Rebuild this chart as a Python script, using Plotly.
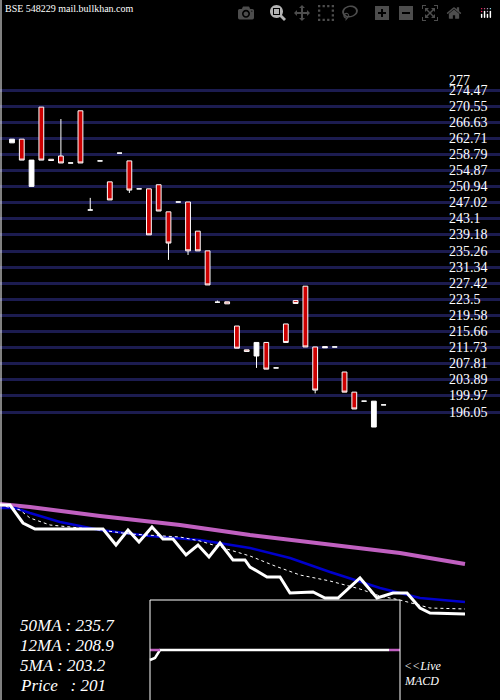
import plotly.graph_objects as go

opens  = [261.6,262.5,251.0,270.3,257.6,258.4,256.7,269.4,245.25,257.2,252.1,259.1,257.2,250.4,250.4,251.4,244.8,247.2,247.2,240.1,235.3,222.8,222.9,217.0,211.2,209.7,213.0,206.8,217.5,223.2,226.7,211.9,212.0,211.9,205.8,200.9,198.7,192.4,197.8]
closes = [262.5,257.4,257.4,257.4,257.3,256.7,256.7,256.7,245.25,257.2,247.7,259.1,250.1,250.4,239.2,245.0,237.2,247.2,235.3,235.3,227.0,222.8,222.4,211.6,210.8,213.0,206.5,206.8,213.0,222.5,211.9,201.4,211.7,211.9,200.9,196.8,198.7,198.7,197.8]
highs  = [262.5,262.5,257.4,270.3,257.6,267.4,256.7,269.4,248.2,257.2,252.1,259.1,257.2,250.4,250.4,251.4,244.8,247.2,247.2,240.1,235.3,223.2,222.9,217.0,211.2,213.0,213.0,206.8,217.5,223.2,226.7,211.9,212.0,211.9,205.8,200.9,198.7,198.7,197.8]
lows   = [261.6,257.4,251.0,257.4,257.3,256.7,256.7,256.7,245.25,257.2,247.7,259.1,249.4,250.4,239.2,245.0,233.1,247.2,234.3,235.3,227.0,222.8,222.4,211.6,210.8,206.8,206.5,206.8,213.0,222.5,211.9,200.6,211.7,211.9,200.9,196.8,198.7,192.4,197.8]
idx = list(range(len(opens)))

tick_vals = [274.47,270.55,266.63,262.71,258.79,254.87,250.94,247.02,243.1,239.18,235.26,231.34,227.42,223.5,219.58,215.66,211.73,207.81,203.89,199.97,196.05]
tick_text = ["274.47","270.55","266.63","262.71","258.79","254.87","250.94","247.02","243.1","239.18","235.26","231.34","227.42","223.5","219.58","215.66","211.73","207.81","203.89","199.97","196.05"]

# lower panel lines (panel units, top=0)
ma50_x = [0,30,100,180,250,330,400,465]
ma50_y = [504,507,516,525,535,545,553,564]
ma12_x = [0,15,30,60,100,150,200,250,290,330,380,420,465]
ma12_y = [508,508,513,522,530,536,540,548,558,572,588,598,602]
ma5_x = [0,20,30,50,70,100,130,150,180,200,230,250,275,300,330,360,380,400,430,465]
ma5_y = [505,510,518,525,527,530,534,535,537,541,550,556,566,575,581,589,596,600,608,609]
px_x = [0,10,23,35,103,116,128,139,152,163,173,186,198,209,220,233,245,250,267,280,290,313,325,338,360,377,393,407,420,430,465]
px_y = [505,505,523,529,529,545,530,542,527,539,539,555,545,557,543,560,560,567,577,577,593,592,598,598,578,598,593,593,608,613,614]
macd_x = [150,155,160,389]
macd_y = [660,658,650,650]

fig = go.Figure()
fig.add_trace(go.Candlestick(x=idx, open=opens, high=highs, low=lows, close=closes,
    increasing=dict(line=dict(color="white", width=1), fillcolor="white"),
    decreasing=dict(line=dict(color="white", width=1), fillcolor="#cc0000"),
    whiskerwidth=0, xaxis="x", yaxis="y", showlegend=False))

for xs, ys, col, w, dash in [(ma50_x, ma50_y, "#c060c0", 4, "solid"),
                             (ma12_x, ma12_y, "#0000cc", 2.5, "solid"),
                             (ma5_x, ma5_y, "white", 1, "dot"),
                             (px_x, px_y, "white", 3, "solid"),
                             (macd_x, macd_y, "white", 2.5, "solid")]:
    fig.add_trace(go.Scatter(x=xs, y=ys, mode="lines", line=dict(color=col, width=w, dash=dash),
                             xaxis="x2", yaxis="y2", showlegend=False, hoverinfo="skip"))
fig.add_trace(go.Scatter(x=[150,160,None,389,400], y=[650,650,None,650,650], mode="lines",
    line=dict(color="#c060c0", width=2.5), xaxis="x2", yaxis="y2", showlegend=False))

sp = 9.78
fig.update_layout(
    width=500, height=700, margin=dict(l=0, r=0, t=0, b=0),
    paper_bgcolor="black", plot_bgcolor="black",
    xaxis=dict(range=[-12/sp, (500-12)/sp], visible=False, rangeslider=dict(visible=False), domain=[0,1]),
    yaxis=dict(range=[274.47-610*0.2435, 274.47+90*0.2435], tickvals=tick_vals, showticklabels=False,
               showgrid=True, gridcolor="#1c1c50", gridwidth=3, zeroline=False, domain=[0,1]),
    xaxis2=dict(range=[0,500], visible=False, overlaying="x"),
    yaxis2=dict(range=[700,0], visible=False, overlaying="y"),
    font=dict(family="Liberation Serif", color="white"),
)
fig.add_shape(type="rect", xref="x2", yref="y2", x0=150, x1=400, y0=600, y1=702, line=dict(color="white", width=1))
fig.add_shape(type="line", xref="x2", yref="y2", x0=1, x1=1, y0=0, y1=700, line=dict(color="white", width=1))

anns = [dict(x=447, y=80, text="277")]
for v, t in zip(tick_vals, tick_text):
    anns.append(dict(x=447, y=(274.47 - v) / 0.2435 + 90, text=t))
for a in anns:
    fig.add_annotation(x=a["x"], y=a["y"], text=a["text"], xref="x2", yref="y2", showarrow=False,
                       xanchor="left", yanchor="middle", font=dict(size=14, color="white", family="Liberation Serif"))
fig.add_annotation(x=3, y=8, text="BSE 548229 mail.bullkhan.com", xref="x2", yref="y2", showarrow=False,
                   xanchor="left", yanchor="middle", font=dict(size=10, color="white", family="Liberation Serif"))
for t, yy in [("50MA : 235.7", 625), ("12MA : 208.9", 645), ("5MA : 203.2", 665), ("Price   : 201", 685)]:
    fig.add_annotation(x=18, y=yy, text="<i>"+t+"</i>", xref="x2", yref="y2", showarrow=False,
                       xanchor="left", yanchor="middle", font=dict(size=17, color="white", family="Liberation Serif"))
for t, yy in [("<<Live", 666), ("MACD", 681)]:
    fig.add_annotation(x=402, y=yy, text="<i>"+t+"</i>", xref="x2", yref="y2", showarrow=False,
                       xanchor="left", yanchor="middle", font=dict(size=12, color="white", family="Liberation Serif"))

fig.write_html("out.html", post_script="document.body.style.margin='0';document.body.style.background='black';")
